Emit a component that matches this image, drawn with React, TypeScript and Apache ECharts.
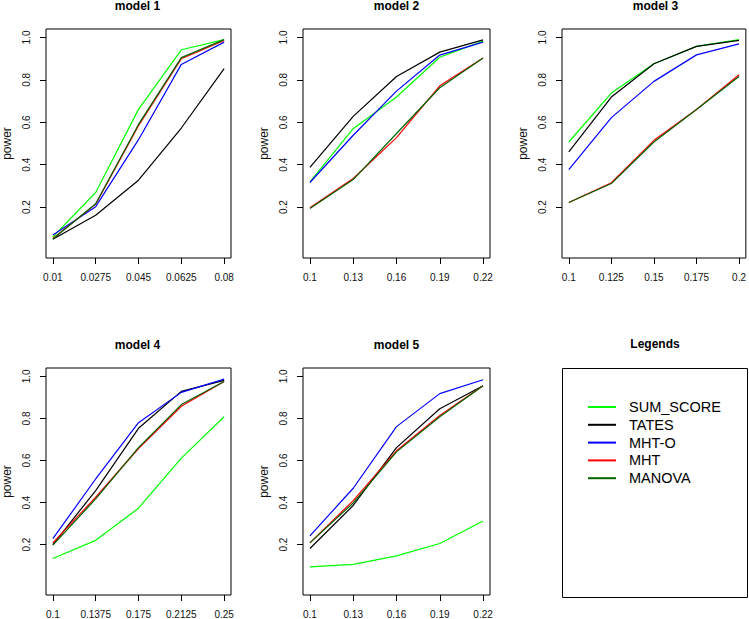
import React, { useEffect, useRef } from "react";
import * as echarts from "echarts";

// ---------- data ----------
const seriesNames = ["SUM_SCORE", "TATES", "MHT-O", "MHT", "MANOVA"];
const seriesColors = ["#00FF00", "#000000", "#0000FF", "#FF0000", "#006400"];

const model1X = ["0.01", "0.0275", "0.045", "0.0625", "0.08"];
const model1SumScore = [0.06, 0.269, 0.661, 0.942, 0.99];
const model1Tates = [0.048, 0.162, 0.327, 0.573, 0.853];
const model1MhtO = [0.068, 0.202, 0.518, 0.873, 0.978];
const model1Mht = [0.052, 0.214, 0.584, 0.9, 0.986];
const model1Manova = [0.05, 0.216, 0.59, 0.905, 0.99];

const model2X = ["0.1", "0.13", "0.16", "0.19", "0.22"];
const model2SumScore = [0.319, 0.57, 0.719, 0.907, 0.983];
const model2Tates = [0.387, 0.628, 0.816, 0.931, 0.989];
const model2MhtO = [0.316, 0.539, 0.747, 0.917, 0.978];
const model2Mht = [0.197, 0.335, 0.528, 0.772, 0.903];
const model2Manova = [0.194, 0.33, 0.547, 0.763, 0.903];

const model3X = ["0.1", "0.125", "0.15", "0.175", "0.2"];
const model3SumScore = [0.507, 0.738, 0.876, 0.958, 0.99];
const model3Tates = [0.46, 0.719, 0.876, 0.958, 0.986];
const model3MhtO = [0.377, 0.622, 0.793, 0.918, 0.97];
const model3Mht = [0.222, 0.315, 0.515, 0.66, 0.824];
const model3Manova = [0.222, 0.311, 0.507, 0.66, 0.816];

const model4X = ["0.1", "0.1375", "0.175", "0.2125", "0.25"];
const model4SumScore = [0.134, 0.22, 0.373, 0.611, 0.808];
const model4Tates = [0.2, 0.457, 0.753, 0.929, 0.981];
const model4MhtO = [0.228, 0.512, 0.78, 0.924, 0.987];
const model4Mht = [0.208, 0.425, 0.657, 0.858, 0.976];
const model4Manova = [0.197, 0.417, 0.661, 0.866, 0.976];

const model5X = ["0.1", "0.13", "0.16", "0.19", "0.22"];
const model5SumScore = [0.094, 0.106, 0.146, 0.205, 0.312];
const model5Tates = [0.181, 0.386, 0.661, 0.846, 0.956];
const model5MhtO = [0.241, 0.468, 0.761, 0.918, 0.984];
const model5Mht = [0.208, 0.409, 0.646, 0.814, 0.956];
const model5Manova = [0.208, 0.398, 0.641, 0.808, 0.956];

const yTicks = ["0.2", "0.4", "0.6", "0.8", "1.0"];
const panelTitles = ["model 1", "model 2", "model 3", "model 4", "model 5"];
const legendTitle = "Legends";
const yAxisTitle = "power";

const panelX = [model1X, model2X, model3X, model4X, model5X];
const panelY = [
  [model1SumScore, model1Tates, model1MhtO, model1Mht, model1Manova],
  [model2SumScore, model2Tates, model2MhtO, model2Mht, model2Manova],
  [model3SumScore, model3Tates, model3MhtO, model3Mht, model3Manova],
  [model4SumScore, model4Tates, model4MhtO, model4Mht, model4Manova],
  [model5SumScore, model5Tates, model5MhtO, model5Mht, model5Manova],
];

// ---------- layout ----------
const FONT = "'Liberation Sans', Arial, Helvetica, sans-serif";
const boxW = 187;
const boxH = 229;
const colLeft = [44, 303, 562];
const rowTop = [29, 368];

export default function App() {
  const ref = useRef<HTMLDivElement>(null);

  useEffect(() => {
    document.body.style.margin = "0";
    const chart = echarts.init(ref.current!, null, { renderer: "svg" });

    const grids: any[] = [];
    const xAxes: any[] = [];
    const yAxes: any[] = [];
    const series: any[] = [];
    const graphics: any[] = [];

    panelX.forEach((xs, i) => {
      const col = i % 3;
      const row = Math.floor(i / 3);
      const left = colLeft[col];
      const top = rowTop[row];
      grids.push({
        left,
        top,
        width: col === 2 ? boxW - 1 : boxW,
        height: boxH,
        show: true,
        borderColor: "#000",
        borderWidth: 1,
        backgroundColor: "transparent",
        containLabel: false,
      });
      const xv = xs.map(Number);
      const x0 = xv[0];
      const x1 = xv[xv.length - 1];
      const ext = (x1 - x0) * 0.04;
      xAxes.push({
        type: "value",
        gridIndex: i,
        min: x0 - ext,
        max: x1 + ext,
        axisLine: { show: false, onZero: false },
        splitLine: { show: false },
        axisTick: {
          show: true,
          inside: false,
          length: 6,
          customValues: xv,
          lineStyle: { color: "#000", width: 1 },
        },
        axisLabel: {
          show: true,
          customValues: xv,
          margin: 14,
          fontSize: 10,
          fontFamily: FONT,
          color: "#111",
          formatter: (v: number) => {
            const k = xv.findIndex((a) => Math.abs(a - v) < 1e-9);
            return k >= 0 ? xs[k] : String(v);
          },
        },
      });
      const yv = yTicks.map(Number);
      yAxes.push({
        type: "value",
        gridIndex: i,
        min: -0.04,
        max: 1.04,
        name: yAxisTitle,
        nameLocation: "middle",
        nameRotate: 90,
        nameGap: 33,
        nameTextStyle: { fontSize: 12, fontFamily: FONT, color: "#111" },
        axisLine: { show: false, onZero: false },
        splitLine: { show: false },
        axisTick: {
          show: true,
          inside: false,
          length: 6,
          customValues: yv,
          lineStyle: { color: "#000", width: 1 },
        },
        axisLabel: {
          show: true,
          customValues: yv,
          rotate: 90,
          margin: 15,
          fontSize: 10,
          fontFamily: FONT,
          color: "#111",
          formatter: (v: number) => {
            const k = yv.findIndex((a) => Math.abs(a - v) < 1e-9);
            return k >= 0 ? yTicks[k] : String(v);
          },
        },
      });
      panelY[i].forEach((ys, s) => {
        series.push({
          type: "line",
          name: seriesNames[s],
          xAxisIndex: i,
          yAxisIndex: i,
          data: xv.map((x, j) => [x, ys[j]]),
          showSymbol: false,
          symbol: "none",
          silent: true,
          lineStyle: { color: seriesColors[s], width: 1.2 },
          itemStyle: { color: seriesColors[s] },
        });
      });
      graphics.push({
        type: "text",
        x: left + boxW / 2,
        y: top - 23,
        style: {
          text: panelTitles[i],
          fontSize: 12,
          fontWeight: "bold",
          fontFamily: FONT,
          fill: "#000",
          align: "center",
          verticalAlign: "middle",
          textAlign: "center",
          textVerticalAlign: "middle",
        },
      });
    });

    // legend panel
    const lLeft = colLeft[2];
    const lTop = rowTop[1];
    graphics.push({
      type: "text",
      x: lLeft + (boxW - 1) / 2,
      y: lTop - 24,
      style: {
        text: legendTitle,
        fontSize: 12,
        fontWeight: "bold",
        fontFamily: FONT,
        fill: "#000",
        align: "center",
        verticalAlign: "middle",
        textAlign: "center",
        textVerticalAlign: "middle",
      },
    });
    graphics.push({
      type: "rect",
      shape: { x: lLeft + 0.5, y: lTop + 0.5, width: boxW - 2, height: boxH },
      style: { fill: "none", stroke: "#000", lineWidth: 1 },
    });
    seriesNames.forEach((n, k) => {
      const yy = lTop + 39 + k * 17.8;
      graphics.push({
        type: "line",
        shape: { x1: lLeft + 26, y1: yy, x2: lLeft + 54, y2: yy },
        style: { stroke: seriesColors[k], lineWidth: 2 },
      });
      graphics.push({
        type: "text",
        x: lLeft + 67,
        y: yy,
        style: {
          text: n,
          fontSize: 14.5,
          fontFamily: FONT,
          fill: "#000",
          align: "left",
          verticalAlign: "middle",
          textAlign: "left",
          textVerticalAlign: "middle",
        },
      });
    });

    chart.setOption({
      animation: false,
      backgroundColor: "#fff",
      grid: grids,
      xAxis: xAxes,
      yAxis: yAxes,
      series,
      graphic: graphics,
    });
    return () => chart.dispose();
  }, []);

  return <div ref={ref} style={{ width: 749, height: 619 }} />;
}
